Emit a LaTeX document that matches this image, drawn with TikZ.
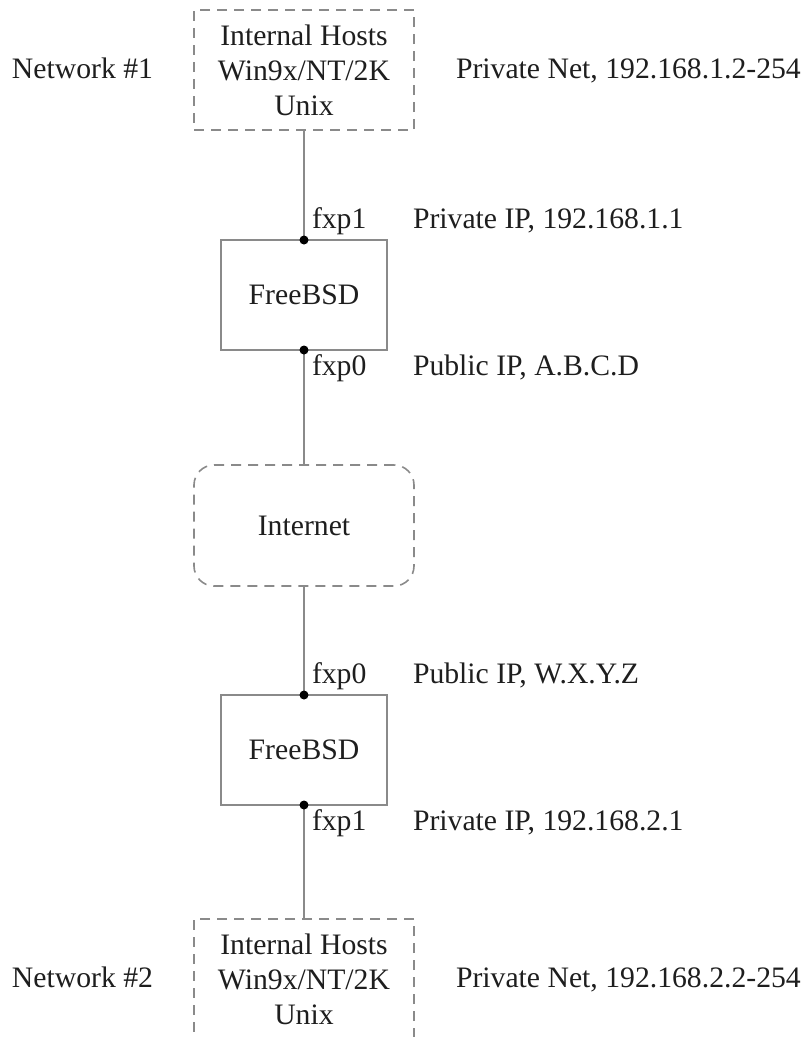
\documentclass[tikz,border=0pt]{standalone}
\usepackage{fontspec}
\setmainfont{Liberation Serif}
\definecolor{NetGray}{HTML}{8A8A8A}
\definecolor{NetInk}{HTML}{1E1E1E}
\usetikzlibrary{positioning}

\begin{document}
\begin{tikzpicture}[x=1pt, y=-1pt,
    font=\fontsize{29.7}{35}\selectfont, text=NetInk,
    every node/.style={outer sep=0pt},
    hostbox/.style={draw=NetGray, line width=1.6pt, dash pattern=on 10pt off 7pt,
      minimum width=220pt, minimum height=120pt, align=center, inner sep=0pt},
    cloudbox/.style={hostbox, rounded corners=20pt, minimum height=121pt},
    routerbox/.style={draw=NetGray, line width=1.6pt, minimum width=166pt, minimum height=110pt},
    wire/.style={draw=NetGray, line width=1.6pt},
    port/.style={circle, fill=black, inner sep=0pt, minimum size=9pt},
    tag/.style={inner sep=0pt, anchor=base west},
    side/.style={inner sep=0pt, text height=20pt, text depth=4pt}]
      \useasboundingbox (0,0) rectangle (808,1037);
      \coordinate (infocol) at (413,0);
      % the chain, top to bottom
      \node[hostbox] (h1) at (304,70) {Internal Hosts\\Win9x/NT/2K\\Unix};
      \node[routerbox, below=110pt of h1] (r1) {FreeBSD};
      \node[cloudbox, below=115pt of r1] (inet) {Internet};
      \node[routerbox, below=109pt of inet] (r2) {FreeBSD};
      \node[hostbox, below=114pt of r2] (h2) {Internal Hosts\\Win9x/NT/2K\\Unix};
      \draw[wire] (h1)--(r1)--(inet)--(r2)--(h2);
      % interfaces
      \node[port] (r1top) at (r1.north) {};
      \node[port] (r1bot) at (r1.south) {};
      \node[port] (r2top) at (r2.north) {};
      \node[port] (r2bot) at (r2.south) {};
      \node[tag] (if1a) at ([shift={(8,-12)}]r1top) {fxp1};
      \node[tag] (if1b) at ([shift={(8,25)}]r1bot) {fxp0};
      \node[tag] (if2a) at ([shift={(8,-12)}]r2top) {fxp0};
      \node[tag] (if2b) at ([shift={(8,25)}]r2bot) {fxp1};
      \node[tag] at (infocol |- if1a.base) {Private IP, 192.168.1.1};
      \node[tag] at (infocol |- if1b.base) {Public IP, A.B.C.D};
      \node[tag] at (infocol |- if2a.base) {Public IP, W.X.Y.Z};
      \node[tag] at (infocol |- if2b.base) {Private IP, 192.168.2.1};
      % network labels
      \node[side, left=41pt of h1] (net1) {Network \#1};
      \node[side, right=42pt of h1] (lan1) {Private Net, 192.168.1.2-254};
      \node[side, left=41pt of h2] (net2) {Network \#2};
      \node[side, right=42pt of h2] (lan2) {Private Net, 192.168.2.2-254};
    \end{tikzpicture}
\end{document}
